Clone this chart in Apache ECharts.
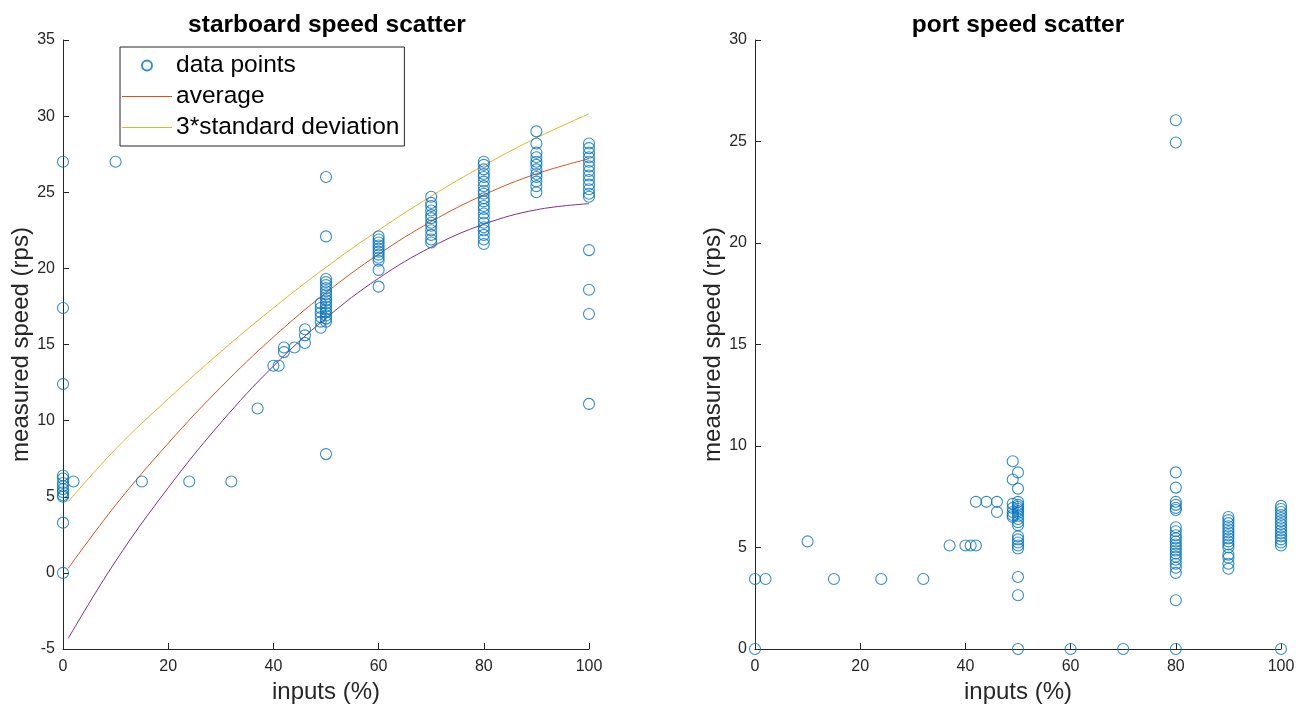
<!DOCTYPE html>
<html>
<head>
<meta charset="utf-8">
<script src="https://cdn.jsdelivr.net/npm/echarts@6/dist/echarts.min.js"></script>
<style>
html,body{margin:0;padding:0;background:#fff;}
#chart{width:1307px;height:709px;}
</style>
</head>
<body>
<div id="chart"></div>
<script>
// ---- data ----
const xTicks = [0, 20, 40, 60, 80, 100];

// starboard (left) data points [input %, measured rps]
const starboardPoints = [
  [0,27.0],[0,17.4],[0,12.4],[0,6.4],[0,6.2],[0,5.9],[0,5.7],[0,5.5],[0,5.3],[0,5.1],[0,5.0],[0,3.3],[0,0.0],
  [2,6.0],[10,27.0],[15,6.0],[24,6.0],[32,6.0],[37,10.8],[40,13.6],[41,13.6],
  [42,14.5],[42,14.8],[44,14.8],[46,15.1],[46,15.6],[46,16.0],
  [49,16.1],[49,16.5],[49,16.8],[49,17.1],[49,17.4],[49,17.7],
  [50,19.3],[50,19.1],[50,18.9],[50,18.7],[50,18.5],[50,18.3],[50,18.1],[50,17.9],[50,17.7],[50,17.5],[50,17.3],[50,17.1],[50,16.9],[50,16.7],[50,16.5],
  [50,26.0],[50,22.1],[50,7.8],
  [60,22.1],[60,21.9],[60,21.7],[60,21.5],[60,21.3],[60,21.1],[60,20.9],[60,20.7],[60,20.5],[60,19.9],[60,18.8],
  [70,24.7],[70,24.3],[70,24.1],[70,23.8],[70,23.5],[70,23.3],[70,23.0],[70,22.8],[70,22.5],[70,22.2],[70,21.9],[70,21.7],
  [80,27.0],[80,26.8],[80,26.5],[80,26.2],[80,26.0],[80,25.7],[80,25.4],[80,25.1],[80,24.9],[80,24.6],[80,24.4],[80,24.1],[80,23.9],[80,23.6],[80,23.3],[80,23.0],[80,22.7],[80,22.5],[80,22.2],[80,21.9],[80,21.6],
  [90,29.0],[90,28.2],[90,27.6],[90,27.3],[90,27.0],[90,26.8],[90,26.5],[90,26.2],[90,26.0],[90,25.7],[90,25.4],[90,25.0],
  [100,28.2],[100,27.9],[100,27.6],[100,27.3],[100,27.0],[100,26.7],[100,26.4],[100,26.1],[100,25.8],[100,25.5],[100,25.2],[100,24.9],[100,24.7],
  [100,21.2],[100,18.6],[100,17.0],[100,11.1]
];

// fitted curves
const averageCurve = [[1,0.3],[10,4.45],[20,8.51],[30,12.19],[40,15.49],[50,18.4],[60,20.93],[70,23.07],[80,24.83],[90,26.21],[100,27.2]];
const upperCurve   = [[1,4.68],[10,8.13],[20,11.43],[30,14.52],[40,17.4],[50,20.07],[60,22.51],[70,24.74],[80,26.76],[90,28.57],[100,30.15]];
const lowerCurve   = [[1,-4.3],[10,0.77],[20,5.59],[30,9.86],[40,13.58],[50,16.73],[60,19.35],[70,21.4],[80,22.9],[90,23.85],[100,24.25]];

// port (right) data points
const portPoints = [
  [0,3.45],[0,0],[2,3.45],[10,5.3],[15,3.45],[24,3.45],[32,3.45],
  [37,5.1],[40,5.1],[41,5.1],[42,5.1],[42,7.25],[44,7.25],[46,7.25],[46,6.75],
  [49,9.25],[49,8.35],[49,7.15],[49,6.95],[49,6.75],[49,6.6],[49,6.5],
  [50,8.7],[50,7.9],[50,7.25],[50,7.1],[50,7.0],[50,6.9],[50,6.8],[50,6.7],[50,6.55],[50,6.4],[50,6.25],[50,6.1],
  [50,5.55],[50,5.4],[50,5.25],[50,5.1],[50,4.95],[50,3.55],[50,2.65],[50,0],
  [60,0],[70,0],
  [80,26.05],[80,24.95],[80,8.7],[80,7.95],[80,7.25],[80,7.1],[80,6.95],[80,6.85],
  [80,6.0],[80,5.8],[80,5.6],[80,5.45],[80,5.3],[80,5.15],[80,5.0],[80,4.85],[80,4.7],[80,4.55],[80,4.4],[80,4.2],[80,4.0],[80,3.75],
  [80,2.4],[80,0],
  [90,6.5],[90,6.35],[90,6.2],[90,6.05],[90,5.9],[90,5.75],[90,5.6],[90,5.45],[90,5.3],[90,5.15],[90,5.0],[90,4.65],[90,4.5],[90,4.2],[90,3.95],
  [100,7.05],[100,6.9],[100,6.75],[100,6.6],[100,6.45],[100,6.3],[100,6.15],[100,6.0],[100,5.85],[100,5.7],[100,5.55],[100,5.4],[100,5.25],[100,5.1],[100,0]
];

// ---- chart ----
const ink = '#262626';
const blue = '#0072BD';
const font = 'Liberation Sans, Arial, Helvetica, sans-serif';

function xAxisCfg(gi) {
  return {
    gridIndex: gi, type: 'value', min: 0, max: 100, interval: 20,
    name: 'inputs (%)', nameLocation: 'middle', nameGap: 31,
    nameTextStyle: {fontSize: 24, color: ink, fontFamily: font},
    axisLine: {onZero: false, lineStyle: {color: ink, width: 1}},
    axisTick: {inside: true, length: 6, lineStyle: {color: ink}},
    axisLabel: {fontSize: 16, color: ink, fontFamily: font, margin: 10},
    splitLine: {show: false}
  };
}
function yAxisCfg(gi, min, max) {
  return {
    gridIndex: gi, type: 'value', min: min, max: max, interval: 5,
    name: 'measured speed (rps)', nameLocation: 'middle', nameGap: 28,
    nameTextStyle: {fontSize: 24, color: ink, fontFamily: font},
    axisLine: {onZero: false, lineStyle: {color: ink, width: 1}},
    axisTick: {inside: true, length: 6, lineStyle: {color: ink}},
    axisLabel: {fontSize: 16, color: ink, fontFamily: font, margin: 8},
    splitLine: {show: false}
  };
}

const scatterStyle = {color: 'rgba(0,0,0,0)', borderColor: blue, borderWidth: 1.1};
const lineIcon = 'path://M0,0L50,0L50,1L0,1Z';

const chart = echarts.init(document.getElementById('chart'), null, {renderer: 'canvas'});
chart.setOption({
  animation: false,
  backgroundColor: '#fff',
  title: [
    {text: 'starboard speed scatter', left: 322, top: 8, textAlign: 'center',
     textStyle: {fontSize: 24.5, fontWeight: 'bold', color: '#000', fontFamily: font}},
    {text: 'port speed scatter', left: 1013, top: 8, textAlign: 'center',
     textStyle: {fontSize: 24.5, fontWeight: 'bold', color: '#000', fontFamily: font}}
  ],
  grid: [
    {left: 63, right: 718, top: 40, bottom: 60},
    {left: 755, right: 26, top: 40, bottom: 60}
  ],
  xAxis: [xAxisCfg(0), xAxisCfg(1)],
  yAxis: [yAxisCfg(0, -5, 35), yAxisCfg(1, 0, 30)],
  legend: {
    left: 120, top: 47, orient: 'vertical',
    data: [
      {name: 'data points', icon: 'circle'},
      {name: 'average', icon: lineIcon},
      {name: '3*standard deviation', icon: lineIcon}
    ],
    backgroundColor: '#fff', borderColor: '#262626', borderWidth: 1,
    padding: [6, 5, 6, 2], itemGap: 6, itemWidth: 50, itemHeight: 10,
    textStyle: {fontSize: 24.5, color: '#000', fontFamily: font, padding: [0,0,0,-1]}
  },
  series: [
    {name: 'data points', type: 'scatter', xAxisIndex: 0, yAxisIndex: 0, data: starboardPoints,
     symbol: 'circle', symbolSize: 11, itemStyle: scatterStyle, z: 3},
    {name: 'lower', type: 'line', xAxisIndex: 0, yAxisIndex: 0, data: lowerCurve, smooth: 0.4,
     symbol: 'none', lineStyle: {color: '#7E2F8E', width: 1}, itemStyle: {color: '#7E2F8E'}, z: 2},
    {name: 'average', type: 'line', xAxisIndex: 0, yAxisIndex: 0, data: averageCurve, smooth: 0.4,
     symbol: 'none', lineStyle: {color: '#D95319', width: 1}, itemStyle: {color: '#D95319'}, z: 2},
    {name: '3*standard deviation', type: 'line', xAxisIndex: 0, yAxisIndex: 0, data: upperCurve, smooth: 0.4,
     symbol: 'none', lineStyle: {color: '#EDB120', width: 1}, itemStyle: {color: '#EDB120'}, z: 2},
    {name: 'port data', type: 'scatter', xAxisIndex: 1, yAxisIndex: 1, data: portPoints,
     symbol: 'circle', symbolSize: 11, itemStyle: scatterStyle, z: 3}
  ]
});
</script>
</body>
</html>
